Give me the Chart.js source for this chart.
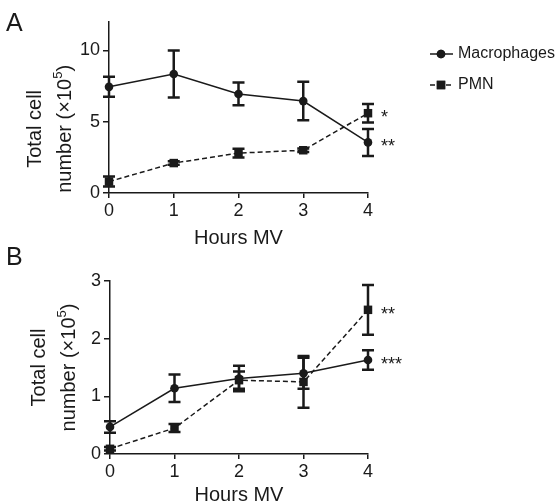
<!DOCTYPE html>
<html>
<head>
<meta charset="utf-8">
<script src="https://cdn.jsdelivr.net/npm/chart.js@4.4.1/dist/chart.umd.min.js"></script>
<style>
  html, body { margin:0; padding:0; background:#fff; }
  #wrap { position:relative; width:557px; height:503px; }
  canvas { position:absolute; left:0; }
</style>
</head>
<body>
<div id="wrap">
  <canvas id="chartA" width="557" height="252" style="top:0"></canvas>
  <canvas id="chartB" width="557" height="263" style="top:240px"></canvas>
</div>
<script>
// ---- data ----
const hours = [0, 1, 2, 3, 4];

// panel A
const macA     = [7.45, 8.35, 6.95, 6.45, 3.55];
const macAErr  = [0.7, 1.65, 0.8, 1.35, 0.95];
const pmnA     = [0.8, 2.1, 2.8, 3.0, 5.6];
const pmnAErr  = [0.35, 0.12, 0.3, 0.12, 0.65];
const yTicksA  = [0, 5, 10];
const starsA   = ["**", "*"];   // [macrophages, PMN] at 4 h

// panel B
const macB     = [0.47, 1.14, 1.31, 1.40, 1.63];
const macBErr  = [0.1, 0.24, 0.22, 0.27, 0.17];
const pmnB     = [0.09, 0.45, 1.28, 1.25, 2.5];
const pmnBErr  = [0.03, 0.07, 0.15, 0.45, 0.43];
const yTicksB  = [0, 1, 2, 3];
const starsB   = ["***", "**"];

const seriesNames = ["Macrophages", "PMN"];
const xTitle = "Hours MV";

const INK = "#1a1a1a";
const FONT = "'Liberation Sans', Arial, Helvetica, sans-serif";

const pts = (ys) => hours.map((h, i) => ({ x: h, y: ys[i] }));

/* ---------- error bars, stars, titles, legend ---------- */
const extrasPlugin = {
  id: "extras",
  beforeDatasetsDraw(chart) {
    const { ctx, scales: { x, y } } = chart;
    const o = chart.options.plugins.extras;
    ctx.save();
    ctx.strokeStyle = INK;
    ctx.lineWidth = 2.5;
    o.errs.forEach((errs, di) => {
      const vals = chart.data.datasets[di].data;
      vals.forEach((p, i) => {
        const px = x.getPixelForValue(p.x);
        const t = y.getPixelForValue(p.y + errs[i]);
        const b = y.getPixelForValue(p.y - errs[i]);
        ctx.beginPath();
        ctx.moveTo(px, t); ctx.lineTo(px, b);
        ctx.moveTo(px - 6, t); ctx.lineTo(px + 6, t);
        ctx.moveTo(px - 6, b); ctx.lineTo(px + 6, b);
        ctx.stroke();
      });
    });
    ctx.restore();
  },
  afterDraw(chart) {
    const { ctx, chartArea, scales: { x, y } } = chart;
    const o = chart.options.plugins.extras;
    ctx.save();
    ctx.fillStyle = INK;

    // significance stars next to last point
    ctx.font = "18px " + FONT;
    ctx.textAlign = "left";
    ctx.textBaseline = "middle";
    o.stars.forEach((s, di) => {
      const vals = chart.data.datasets[di].data;
      const p = vals[vals.length - 1];
      ctx.fillText(s, x.getPixelForValue(p.x) + 13, y.getPixelForValue(p.y) + 5);
    });

    // panel letter
    ctx.font = "25px " + FONT;
    ctx.textAlign = "left";
    ctx.textBaseline = "middle";
    ctx.fillText(o.letter, 6, o.letterY);

    // x title
    ctx.font = "20px " + FONT;
    ctx.textAlign = "center";
    ctx.fillText(xTitle, (chartArea.left + chartArea.right) / 2, chartArea.bottom + o.xTitleGap);

    // y title, two rotated lines, with superscript 5
    const cy = y.getPixelForValue(o.yTitleAt);
    ctx.save();
    ctx.translate(o.yTitleX, cy);
    ctx.rotate(-Math.PI / 2);
    ctx.textAlign = "center";
    ctx.textBaseline = "middle";
    ctx.font = "20px " + FONT;
    ctx.fillText("Total cell", 0, 0);
    const a = "number (\u00d710", sup = "5", c = ")";
    const wa = ctx.measureText(a).width, wc = ctx.measureText(c).width;
    ctx.font = "13px " + FONT;
    const ws = ctx.measureText(sup).width;
    let sx = -(wa + ws + wc) / 2;
    ctx.textAlign = "left";
    ctx.font = "20px " + FONT;
    ctx.fillText(a, sx, 30);
    ctx.font = "13px " + FONT;
    ctx.fillText(sup, sx + wa, 23);
    ctx.font = "20px " + FONT;
    ctx.fillText(c, sx + wa + ws, 30);
    ctx.restore();

    // legend
    if (o.legend) {
      ctx.font = "16px " + FONT;
      ctx.textAlign = "left";
      ctx.textBaseline = "middle";
      const rows = [54, 85];
      chart.data.datasets.forEach((ds, di) => {
        const ly = rows[di];
        ctx.save();
        ctx.strokeStyle = INK;
        ctx.lineWidth = 1.5;
        ctx.setLineDash(ds.borderDash || []);
        ctx.beginPath(); ctx.moveTo(430, ly); ctx.lineTo(453, ly); ctx.stroke();
        ctx.restore();
        Chart.helpers.drawPoint(ctx, { pointStyle: ds.pointStyle, radius: ds.pointRadius, borderWidth: 0 }, 441, ly);
        ctx.fillStyle = INK;
        ctx.fill();
        ctx.fillText(ds.label, 458, ly);
      });
    }
    ctx.restore();
  }
};

function makeChart(id, mac, macErr, pmn, pmnErr, yMax, yTicks, stars, extra) {
  return new Chart(document.getElementById(id), {
    type: "line",
    data: {
      datasets: [
        { label: seriesNames[0], data: pts(mac), borderColor: INK, backgroundColor: INK,
          borderWidth: 1.5, pointStyle: "circle", pointRadius: 4.3, pointBorderWidth: 0, tension: 0 },
        { label: seriesNames[1], data: pts(pmn), borderColor: INK, backgroundColor: INK,
          borderWidth: 1.5, borderDash: [5, 3], pointStyle: "rect", pointRadius: 6, pointBorderWidth: 0, tension: 0 }
      ]
    },
    options: {
      responsive: false,
      animation: false,
      clip: false,
      layout: { padding: { top: extra.top, right: 189, left: 0, bottom: 0 } },
      plugins: {
        legend: { display: false },
        tooltip: { enabled: false },
        extras: Object.assign({ errs: [macErr, pmnErr], stars }, extra)
      },
      scales: {
        x: {
          type: "linear", min: 0, max: 4,
          afterBuildTicks: (s) => { s.ticks = hours.map(v => ({ value: v })); },
          afterFit: (s) => { s.height = extra.xHeight; },
          grid: { drawOnChartArea: false, drawTicks: true, tickLength: 5, color: INK, lineWidth: 1.5 },
          border: { display: true, color: INK, width: 1.5 },
          ticks: { color: INK, padding: 2, font: { family: FONT, size: 18 } }
        },
        y: {
          type: "linear", min: 0, max: yMax,
          afterBuildTicks: (s) => { s.ticks = yTicks.map(v => ({ value: v })); },
          afterFit: (s) => { s.width = extra.yWidth; },
          grid: { drawOnChartArea: false, drawTicks: true, tickLength: 6, color: INK, lineWidth: 1.5 },
          border: { display: true, color: INK, width: 1.5 },
          ticks: { color: INK, padding: 3, font: { family: FONT, size: 18 } }
        }
      }
    },
    plugins: [extrasPlugin]
  });
}

makeChart("chartA", macA, macAErr, pmnA, pmnAErr, 12, yTicksA, starsA,
  { top: 22, xHeight: 59, yWidth: 109, letter: "A", letterY: 24, xTitleGap: 45,
    yTitleAt: 4.5, yTitleX: 35, legend: true });

makeChart("chartB", macB, macBErr, pmnB, pmnBErr, 3, yTicksB, starsB,
  { top: 41, xHeight: 49, yWidth: 110, letter: "B", letterY: 18, xTitleGap: 41,
    yTitleAt: 1.5, yTitleX: 39, legend: false });
</script>
</body>
</html>
